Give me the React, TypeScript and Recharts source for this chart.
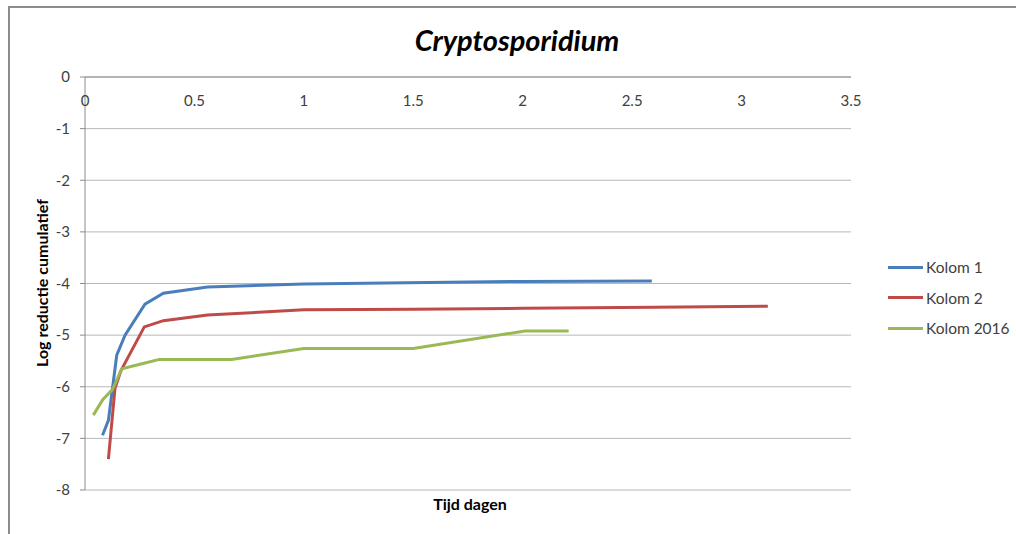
import React from "react"
import { LineChart, Line, XAxis, YAxis, CartesianGrid, Legend } from "recharts"

// waarden
const kolom1Dagen = [0.08, 0.107, 0.145, 0.183, 0.274, 0.358, 0.56, 1.0, 2.0, 2.59]
const kolom1Log = [-6.94, -6.65, -5.39, -5.0, -4.4, -4.19, -4.07, -4.01, -3.96, -3.95]

const kolom2Dagen = [0.107, 0.137, 0.165, 0.271, 0.358, 0.56, 1.0, 1.5, 2.0, 2.6, 3.12]
const kolom2Log = [-7.4, -6.03, -5.68, -4.84, -4.72, -4.61, -4.51, -4.5, -4.48, -4.46, -4.44]

const kolom2016Dagen = [0.038, 0.081, 0.126, 0.168, 0.274, 0.34, 0.67, 1.0, 1.5, 2.01, 2.21]
const kolom2016Log = [-6.55, -6.25, -6.05, -5.65, -5.54, -5.47, -5.47, -5.26, -5.26, -4.92, -4.92]

const xTicks = [0, 0.5, 1, 1.5, 2, 2.5, 3, 3.5]
const yTicks = [0, -1, -2, -3, -4, -5, -6, -7, -8]

const toPts = (xs: number[], ys: number[]) => xs.map((d, i) => ({ dag: d, log: ys[i] }))

const series = [
  { name: "Kolom 1", color: "#4a7ebb", data: toPts(kolom1Dagen, kolom1Log) },
  { name: "Kolom 2", color: "#be4b48", data: toPts(kolom2Dagen, kolom2Log) },
  { name: "Kolom 2016", color: "#98b954", data: toPts(kolom2016Dagen, kolom2016Log) },
]

const FONT = "Lato, 'Open Sans', sans-serif"
const AXIS = "#8c8c8c"
const GRID = "#b8b8b8"

function TopTick({ x, y, payload }: any) {
  return (
    <text x={x} y={y + 29} textAnchor="middle" fontSize={15} fill="#404040" fontFamily={FONT}>
      {payload.value}
    </text>
  )
}

function LegendBox({ payload }: any) {
  return (
    <div style={{ fontFamily: FONT, fontSize: 15.5, color: "#404040", whiteSpace: "nowrap" }}>
      {(payload || []).map((p: any) => (
        <div key={p.value} style={{ display: "flex", alignItems: "center", height: 30.5 }}>
          <span style={{ display: "inline-block", width: 35, height: 3, background: p.color, marginRight: 3 }} />
          {p.value}
        </div>
      ))}
    </div>
  )
}

export default function App() {
  return (
    <div style={{ position: "absolute", left: 8, top: 6, width: 1008, height: 528 }}>
      <div style={{
        position: "absolute", left: 0, top: 0, width: 1008, height: 528, pointerEvents: "none",
        borderTop: "2px solid #8c8c8c", borderLeft: "2px solid #8c8c8c", boxSizing: "border-box",
      }} />
      <div style={{ position: "absolute", left: 0, top: 2, width: 1008, height: 518 }}>
        <div style={{
          position: "absolute", left: 34 - 100, top: 275 - 10, width: 200, height: 20, lineHeight: "20px",
          textAlign: "center", transform: "rotate(-90deg)", whiteSpace: "nowrap",
          fontFamily: FONT, fontSize: 16, fontWeight: 700, color: "#000",
        }}>
          Log reductie cumulatief
        </div>
        <div style={{
          position: "absolute", left: 362, width: 200, top: 486, textAlign: "center",
          fontFamily: FONT, fontSize: 16, fontWeight: 700, color: "#000",
        }}>
          Tijd dagen
        </div>
        <LineChart width={1008} height={518} margin={{ top: 68, right: 37, bottom: 36, left: 0 }}>
          <CartesianGrid vertical={false} stroke={GRID} />
          <XAxis type="number" dataKey="dag" orientation="top" domain={[0, 3.5]} ticks={xTicks}
            height={1} axisLine={{ stroke: AXIS }} tickLine={false} tickSize={0} tickMargin={0}
            tick={<TopTick />} interval={0} allowDuplicatedCategory={false} />
          <YAxis type="number" dataKey="log" domain={[-8, 0]} ticks={yTicks} width={77}
            axisLine={{ stroke: AXIS }} tickLine={{ stroke: AXIS }} tickSize={5} tickMargin={10}
            tick={{ fontSize: 15, fill: "#404040", fontFamily: FONT }} interval={0} />
          <Legend layout="vertical" align="right" verticalAlign="middle" content={<LegendBox />}
            wrapperStyle={{ width: 128, left: 880, top: 244 }} />
          {series.map((s) => (
            <Line key={s.name} data={s.data} dataKey="log" name={s.name} type="linear"
              stroke={s.color} strokeWidth={3} dot={false} activeDot={false} isAnimationActive={false} />
          ))}
        </LineChart>
        <div style={{
          position: "absolute", left: 0, width: 1018, top: 14, textAlign: "center", zIndex: 2,
          fontFamily: FONT, fontSize: 29, fontWeight: 700, fontStyle: "italic", color: "#000",
        }}>
          Cryptosporidium
        </div>
      </div>
    </div>
  )
}
